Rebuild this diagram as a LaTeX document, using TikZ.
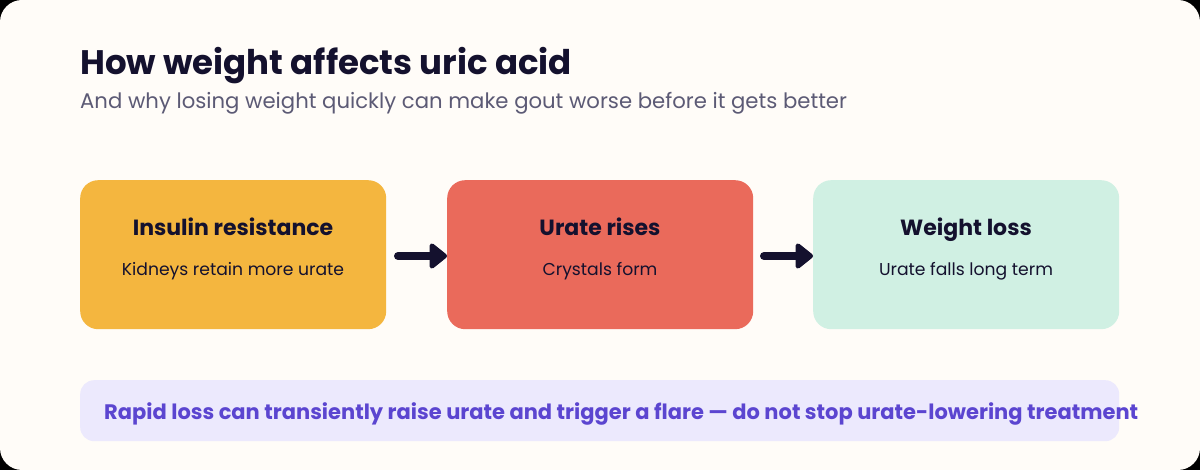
\documentclass[tikz,border=0pt]{standalone}
\usepackage{fontspec}
\setmainfont{Poppins}
\usetikzlibrary{arrows.meta}
\definecolor{bg}{HTML}{FFFCF8}
\definecolor{ink}{HTML}{14112E}
\definecolor{subc}{HTML}{5C5A75}
\definecolor{orangec}{HTML}{F4B63F}
\definecolor{redc}{HTML}{EA6A5B}
\definecolor{mintc}{HTML}{D0F0E3}
\definecolor{notebg}{HTML}{ECE9FD}
\definecolor{notec}{HTML}{5B45D0}
\tikzset{
  card/.style={rounded corners=18pt, minimum width=306pt, minimum height=149pt, inner sep=0pt, anchor=north west},
  cardtitle/.style={font=\fontsize{22}{26}\selectfont\bfseries, text=ink, anchor=base},
  cardbody/.style={font=\fontsize{17.2}{20}\selectfont, text=ink, anchor=base},
  flow/.style={draw=ink, line width=8pt, line cap=round, -{Triangle[length=19pt,width=29pt,round=false]}, shorten >=0pt},
}
\begin{document}
\begin{tikzpicture}[x=1pt,y=-1pt]
\useasboundingbox (0,0) rectangle (1200,470);
\fill[black] (0,0) rectangle (1200,470);
\fill[bg, rounded corners=22pt] (0,0) rectangle (1200,470);
\node[font=\fontsize{34}{40}\selectfont\bfseries, text=ink, anchor=base west, inner sep=0pt] (title) at (80,75) {How weight affects uric acid};
\node[font=\fontsize{21.2}{25}\selectfont, text=subc, anchor=base west, inner sep=0pt] (subtitle) at (80,109) {And why losing weight quickly can make gout worse before it gets better};
\node[card, fill=orangec] (b1) at (80,180) {};
\node[card, fill=redc] (b2) at (447,180) {};
\node[card, fill=mintc] (b3) at (813,180) {};
\node[cardtitle] (t1) at (233,236) {Insulin resistance};
\node[cardbody] (d1) at (233,276) {Kidneys retain more urate};
\node[cardtitle] (t2) at (600,236) {Urate rises};
\node[cardbody] (d2) at (600,276) {Crystals form};
\node[cardtitle] (t3) at (966,236) {Weight loss};
\node[cardbody] (d3) at (966,276) {Urate falls long term};
\coordinate (a1s) at (398,256);
\coordinate (a2s) at (764,256);
\draw[flow] (a1s) -- (b2.west |- a1s);
\draw[flow] (a2s) -- (b3.west |- a2s);
\node[fill=notebg, rounded corners=14pt, minimum width=1039pt, minimum height=61pt, inner sep=0pt, anchor=north west] (note) at (80,380) {};
\node[font=\fontsize{21}{25}\selectfont\bfseries, text=notec, anchor=base west, inner sep=0pt] (notetext) at (104,419) {Rapid loss can transiently raise urate and trigger a flare — do not stop urate-lowering treatment};
\end{tikzpicture}
\end{document}
